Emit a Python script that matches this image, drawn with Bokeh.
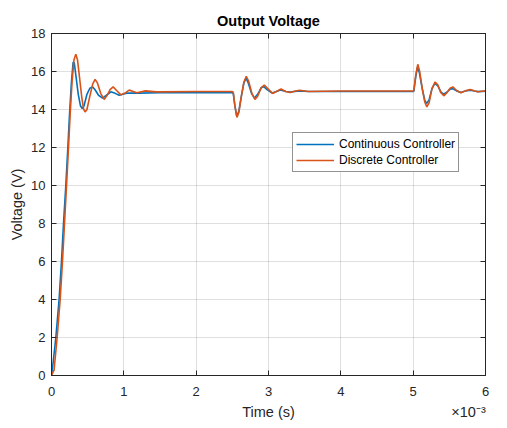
from bokeh.plotting import figure
from bokeh.models import (Range1d, FixedTicker, LinearAxis, Legend, LegendItem,
                          CustomJSTickFormatter)
from bokeh.embed import file_html
from bokeh.resources import INLINE

# ---- data (time in ms; axis shows x10^-3 s) ----
t_cont = [0, 0.02, 0.06, 0.105, 0.138, 0.166, 0.198, 0.226, 0.25, 0.275, 0.299, 0.315, 0.34,
          0.37, 0.40, 0.425, 0.45, 0.49, 0.53, 0.567, 0.60, 0.65, 0.706, 0.76, 0.82, 0.88,
          0.935, 1.0, 1.05, 1.2, 1.5, 2.0, 2.5, 2.513, 2.535, 2.56, 2.59, 2.625, 2.66, 2.69,
          2.72, 2.765, 2.805, 2.85, 2.90, 2.935, 2.98, 3.05, 3.11, 3.165, 3.24, 3.30, 3.43,
          3.55, 4.0, 4.5, 5.0, 5.009, 5.035, 5.06, 5.085, 5.125, 5.16, 5.185, 5.22, 5.26,
          5.30, 5.34, 5.38, 5.42, 5.47, 5.51, 5.545, 5.60, 5.66, 5.72, 5.79, 5.85, 5.895, 6.0]
v_cont = [0, 0.6, 2.0, 4.0, 6.0, 8.0, 10.0, 12.0, 13.8, 15.4, 16.5, 16.45, 15.7,
          14.8, 14.2, 14.05, 14.2, 14.8, 15.12, 15.19, 15.05, 14.75, 14.6, 14.75, 14.93, 14.85,
          14.75, 14.82, 14.87, 14.86, 14.88, 14.88, 14.88, 14.85, 14.2, 13.65, 13.9, 14.7, 15.4, 15.65,
          15.4, 14.85, 14.6, 14.8, 15.15, 15.2, 15.05, 14.87, 14.95, 15.03, 14.95, 14.92, 14.98,
          14.95, 14.95, 14.95, 14.95, 14.96, 15.7, 16.24, 15.95, 15.1, 14.5, 14.32, 14.5, 15.1,
          15.37, 15.25, 14.95, 14.8, 14.92, 15.07, 15.1, 14.98, 14.9, 14.97, 15.02, 14.97, 14.94, 14.96]

t_disc = [0, 0.036, 0.078, 0.12, 0.152, 0.18, 0.208, 0.235, 0.26, 0.285, 0.31, 0.336, 0.36,
          0.39, 0.42, 0.445, 0.465, 0.49, 0.53, 0.57, 0.603, 0.635, 0.68, 0.728, 0.77, 0.81,
          0.852, 0.90, 0.959, 1.01, 1.074, 1.13, 1.18, 1.30, 1.45, 2.0, 2.5, 2.513, 2.535,
          2.564, 2.59, 2.625, 2.66, 2.693, 2.725, 2.77, 2.813, 2.85, 2.90, 2.942, 2.99, 3.058,
          3.11, 3.173, 3.24, 3.30, 3.36, 3.43, 3.55, 4.0, 4.5, 5.0, 5.009, 5.035, 5.064, 5.09,
          5.13, 5.16, 5.189, 5.22, 5.26, 5.304, 5.34, 5.38, 5.424, 5.47, 5.51, 5.549, 5.60,
          5.66, 5.72, 5.79, 5.85, 5.895, 5.95, 6.0]
v_disc = [0, 0.3, 2.0, 4.0, 6.0, 8.0, 10.0, 12.0, 13.9, 15.5, 16.6, 16.91, 16.6,
          15.6, 14.6, 14.0, 13.87, 14.0, 14.7, 15.35, 15.58, 15.4, 14.85, 14.53, 14.75, 15.05,
          15.19, 15.0, 14.77, 14.85, 15.02, 14.95, 14.88, 14.98, 14.93, 14.95, 14.95, 14.9, 14.2,
          13.58, 13.85, 14.7, 15.45, 15.75, 15.5, 14.85, 14.53, 14.7, 15.15, 15.28, 15.1, 14.84,
          14.95, 15.08, 14.95, 14.89, 14.96, 15.01, 14.95, 14.97, 14.97, 14.98, 15.0, 15.8, 16.38, 16.0,
          15.0, 14.4, 14.14, 14.35, 15.1, 15.45, 15.3, 14.9, 14.72, 14.9, 15.12, 15.19, 15.0,
          14.88, 14.98, 15.05, 14.97, 14.93, 14.96, 14.98]

x_ticks = [0, 1, 2, 3, 4, 5, 6]
y_ticks = [0, 2, 4, 6, 8, 10, 12, 14, 16, 18]
series_names = ["Continuous Controller", "Discrete Controller"]
series_colors = ["#0072BD", "#D95319"]
x_title = "Time (s)"
y_title = "Voltage (V)"
x_exponent = "×10⁻³"

FONT = "Liberation Sans"
TXT = "#262626"

p = figure(width=506, height=427, output_backend="svg", toolbar_location=None,
           x_range=Range1d(0, 6), y_range=Range1d(0, 18),
           min_border_left=51, min_border_right=21, min_border_top=33, min_border_bottom=52)
p.frame_width = 434
p.frame_height = 342

p.title.text = "Output Voltage"
p.title.align = "center"
p.title.text_font = FONT
p.title.text_font_size = "14.5px"
p.title.text_font_style = "bold"
p.title.text_color = "#000000"
p.title.standoff = 9

p.outline_line_color = TXT
p.outline_line_width = 1
p.outline_line_alpha = 1
p.background_fill_color = "white"
p.border_fill_color = "white"

l1 = p.line(t_cont, v_cont, line_color=series_colors[0], line_width=1.6)
l2 = p.line(t_disc, v_disc, line_color=series_colors[1], line_width=1.6)

for ax in p.xaxis + p.yaxis:
    ax.major_tick_in = 5
    ax.major_tick_out = 0
    ax.minor_tick_line_color = None
    ax.axis_line_color = TXT
    ax.major_tick_line_color = TXT
    ax.major_label_text_font = FONT
    ax.major_label_text_font_size = "13px"
    ax.major_label_text_color = TXT
    ax.axis_label_text_font = FONT
    ax.axis_label_text_font_size = "14.5px"
    ax.axis_label_text_font_style = "normal"
    ax.axis_label_text_color = TXT

p.xaxis.ticker = FixedTicker(ticks=x_ticks)
p.yaxis.ticker = FixedTicker(ticks=y_ticks)
p.yaxis.axis_label = y_title
p.xaxis.major_label_standoff = 11
p.yaxis.major_label_standoff = 6
p.yaxis.axis_label_standoff = 3

# second bottom axis: carries the x title (centre) and the x10^-3 multiplier (right), on one row
title_pos = (x_ticks[0] + x_ticks[-1]) / 2
exp_pos = x_ticks[-1] - 0.235
title_axis = LinearAxis(
    ticker=FixedTicker(ticks=[title_pos, exp_pos]),
    formatter=CustomJSTickFormatter(args=dict(t=x_title, e=x_exponent, c=title_pos),
                                    code="return Math.abs(tick - c) < 1e-9 ? t : e"),
    axis_line_color=None, major_tick_line_color=None, minor_tick_line_color=None,
    major_label_standoff=-1, major_label_text_font=FONT,
    major_label_text_font_size="14.5px", major_label_text_color=TXT)
p.add_layout(title_axis, "below")

blank = CustomJSTickFormatter(code="return ''")
top_ax = LinearAxis(ticker=FixedTicker(ticks=x_ticks), formatter=blank,
                    major_tick_in=5, major_tick_out=0, minor_tick_line_color=None,
                    axis_line_color=TXT, major_tick_line_color=TXT, major_label_standoff=0)
right_ax = LinearAxis(ticker=FixedTicker(ticks=y_ticks), formatter=blank,
                      major_tick_in=5, major_tick_out=0, minor_tick_line_color=None,
                      axis_line_color=TXT, major_tick_line_color=TXT, major_label_standoff=0)
p.add_layout(top_ax, "above")
p.add_layout(right_ax, "right")

p.xgrid.ticker = FixedTicker(ticks=x_ticks)
p.ygrid.ticker = FixedTicker(ticks=y_ticks)
p.grid.grid_line_color = TXT
p.grid.grid_line_alpha = 0.15

legend = Legend(items=[LegendItem(label=series_names[0], renderers=[l1]),
                       LegendItem(label=series_names[1], renderers=[l2])],
                location=(241, 203), orientation="vertical")
legend.label_text_font = FONT
legend.label_text_font_size = "12px"
legend.label_text_color = "#000000"
legend.glyph_width = 38
legend.glyph_height = 16
legend.label_height = 16
legend.label_standoff = 5
legend.spacing = 0
legend.padding = 3
legend.margin = 0
legend.border_line_color = TXT
legend.border_line_width = 1
legend.background_fill_color = "white"
legend.background_fill_alpha = 1
p.add_layout(legend, "center")

open("out.html", "w").write(file_html(p, INLINE))
